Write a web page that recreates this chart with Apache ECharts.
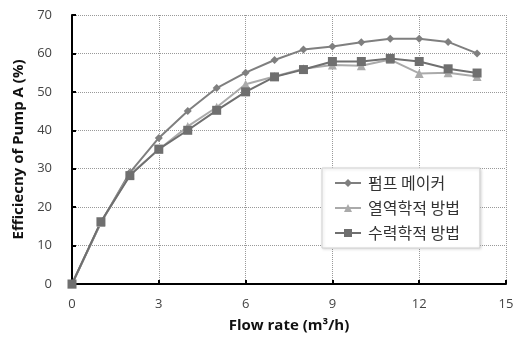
<!DOCTYPE html>
<html><head><meta charset="utf-8">
<script src="https://cdn.jsdelivr.net/npm/echarts@6/dist/echarts.min.js"></script>
<style>html,body{margin:0;padding:0;background:#fff}#c{width:519px;height:338px}</style>
</head><body><div id="c"></div>
<script>
const flow = [0,1,2,3,4,5,6,7,8,9,10,11,12,13,14];
const pumpMaker = [0,16,29,38,45,51,55,58.3,61,61.8,62.9,63.8,63.8,63,60];
const thermo = [0,16,28.5,35,41,46,52,54,56,57,56.8,58.4,54.8,55,54];
const hydraulic = [0,16.2,28.2,35.1,40,45.2,50,53.9,55.8,57.9,57.9,58.7,57.9,56,54.9];
const names = ['펌프 메이커','열역학적 방법','수력학적 방법'];
const xTitle = 'Flow rate (m³/h)';
const yTitle = 'Efficiecny of Pump A (%)';

const font = '"Open Sans","Noto Sans CJK KR",sans-serif';
const chart = echarts.init(document.getElementById('c'));
function pairs(v){return flow.map((x,i)=>[x,v[i]]);}
chart.setOption({
  animation:false,
  grid:{left:72,right:13,top:15,bottom:52},
  legend:{
    orient:'vertical', left:322, top:168,
    backgroundColor:'#fff', borderColor:'#d0d0d0', borderWidth:1,
    shadowColor:'rgba(0,0,0,0.15)', shadowBlur:3, shadowOffsetX:1, shadowOffsetY:1,
    padding:[7,20,7,12], itemGap:9, itemWidth:26, itemHeight:10,
    textStyle:{fontFamily:'"Noto Sans CJK KR",sans-serif', fontSize:16, color:'#333', padding:[0,0,0,2]},
    data:names
  },
  xAxis:{
    type:'value', min:0, max:15, interval:3,
    name:xTitle, nameLocation:'middle', nameGap:34,
    nameTextStyle:{fontFamily:font, fontWeight:'bold', fontSize:15, color:'#111'},
    axisLine:{lineStyle:{color:'#000', width:2}},
    axisTick:{inside:true, length:4, lineStyle:{color:'#000', width:2}},
    axisLabel:{fontFamily:font, fontSize:13, color:'#444', margin:14},
    splitLine:{show:true, lineStyle:{type:'dotted', color:'#999', width:1}}
  },
  yAxis:{
    type:'value', min:0, max:70, interval:10,
    name:yTitle, nameLocation:'middle', nameGap:45, nameRotate:90,
    nameTextStyle:{fontFamily:font, fontWeight:'bold', fontSize:15, color:'#111'},
    axisLine:{show:true, lineStyle:{color:'#000', width:2}},
    axisTick:{show:true, inside:true, length:4, lineStyle:{color:'#000', width:2}},
    axisLabel:{fontFamily:font, fontSize:13, color:'#444', margin:20},
    splitLine:{show:true, lineStyle:{type:'dotted', color:'#999', width:1}}
  },
  series:[
    {name:names[0], type:'line', data:pairs(pumpMaker), symbol:'diamond', symbolSize:8,
     itemStyle:{color:'#7f7f7f'}, lineStyle:{color:'#7f7f7f', width:2}},
    {name:names[1], type:'line', data:pairs(thermo), symbol:'triangle', symbolSize:9,
     itemStyle:{color:'#aaaaaa'}, lineStyle:{color:'#aaaaaa', width:2}},
    {name:names[2], type:'line', data:pairs(hydraulic), symbol:'rect', symbolSize:9,
     itemStyle:{color:'#6f6f6f'}, lineStyle:{color:'#6f6f6f', width:2}}
  ]
});
</script></body></html>
